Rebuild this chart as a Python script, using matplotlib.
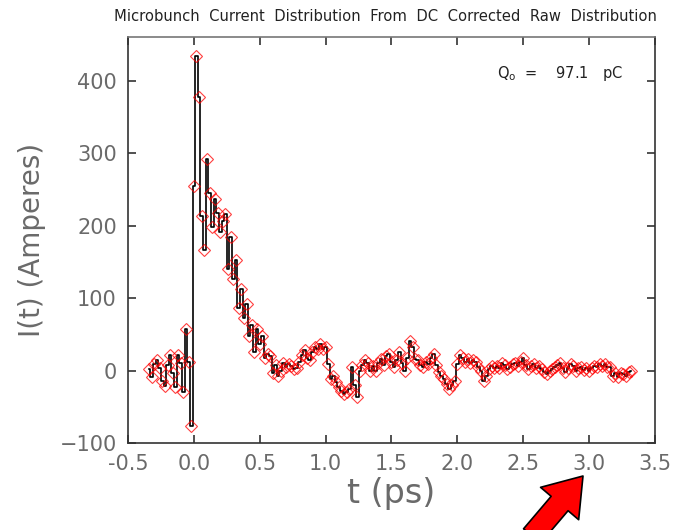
import numpy as np
import matplotlib
matplotlib.use("Agg")
import matplotlib.pyplot as plt

t_debut = -0.34
pas = 0.02
courant = [
    2, -9, 9, 15, 3, -14, -21, 8, 21, -4, -23, 21, 10, -30, 58, 12, -76,
    254, 434, 378, 213, 167, 292, 245, 198, 236, 218, 191, 207, 216, 140,
    184, 127, 152, 87, 113, 72, 92, 48, 63, 25, 58, 37, 48, 17, 23, 20,
    -4, 8, -7, 0, 11, 5, 9, 7, 2, 3, 12, 22, 28, 18, 14, 25, 32, 30, 37,
    30, 33, 9, -11, -8, -16, -22, -28, -32, -30, -25, 5, -20, -37, 0, 8,
    14, 11, 0, 6, 0, 10, 16, 8, 20, 23, 12, 5, 15, 25, 10, 0, 18, 41, 32,
    16, 14, 8, 5, 12, 9, 18, 23, 8, -2, -8, -11, -18, -25, -20, -14, 9,
    21, 18, 12, 16, 10, 14, 12, 5, 0, -14, -8, 2, 6, 3, 7, 4, 11, 8, 2,
    5, 9, 11, 6, 12, 18, 8, 2, 6, 9, 4, 7, 2, -2, -5, -1, 2, 5, 8, 11, 4,
    -2, 3, 9, 6, 0, 3, 5, 1, 4, 0, 3, 7, 5, 9, 7, 9, 5, 5, -7, -3, -9, -4,
    -5, -8, -2, 0,
]
t = t_debut + pas * np.arange(len(courant))

x_ticks = [-0.5, 0.0, 0.5, 1.0, 1.5, 2.0, 2.5, 3.0, 3.5]
y_ticks = [-100, 0, 100, 200, 300, 400]
titre = "Microbunch  Current  Distribution  From  DC  Corrected  Raw  Distribution"
charge = r"Q$_\mathrm{o}$  =    97.1   pC"

gris = "#6a6a6a"

fig = plt.figure(figsize=(6.79, 5.30), dpi=100)
ax = fig.add_axes([0.1885, 0.164, 0.776, 0.766])

ax.plot(t, courant, color="black", lw=1.2, drawstyle="steps-mid", zorder=2)
ax.plot(t, courant, ls="none", marker="D", ms=6.2, mfc="none",
        mec="red", mew=0.8, alpha=0.75, zorder=3)

ax.set_xlim(-0.5, 3.5)
ax.set_ylim(-100, 460)
ax.set_xticks(x_ticks)
ax.set_xticklabels([f"{v:.1f}" for v in x_ticks])
ax.set_yticks(y_ticks)
ax.tick_params(direction="in", length=6, width=1.2, top=True, right=True,
               labelsize=15, labelcolor=gris, pad=8, color="#333333")
for s in ax.spines.values():
    s.set_color("#333333")
    s.set_linewidth(1.2)
ax.spines["top"].set_color("#777777")

ax.set_xlabel("t (ps)", fontsize=24, color=gris, labelpad=2)
ax.set_ylabel("I(t) (Amperes)", fontsize=20, color=gris, labelpad=10)

fig.text(0.967, 0.968, titre, ha="right", va="center", fontsize=10.6,
         color="#222222")
ax.text(0.70, 0.91, charge, transform=ax.transAxes, fontsize=10.5,
        color="#222222", va="center")

# fleche rouge en bas a droite
ax.annotate("", xy=(583, 530 - 476), xycoords="figure pixels",
            xytext=(532, 530 - 536), textcoords="figure pixels",
            arrowprops=dict(arrowstyle="simple,head_width=1.8,head_length=1.3,tail_width=0.8",
                            fc="red", ec="black", lw=1.2, mutation_scale=20,
                            shrinkA=0, shrinkB=0),
            annotation_clip=False)

fig.savefig("out.png", dpi=100)
